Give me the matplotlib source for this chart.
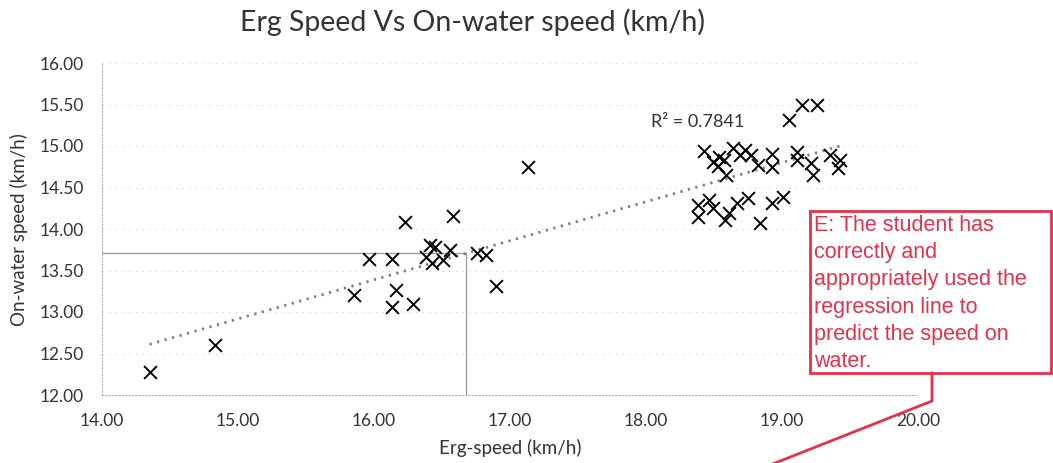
import numpy as np
import matplotlib
matplotlib.use("Agg")
import matplotlib.pyplot as plt
from matplotlib.patches import Rectangle
from matplotlib.lines import Line2D

# values
erg_speed = [
    14.35, 14.83, 15.85, 15.96, 16.13, 16.16, 16.13, 16.29, 16.23, 16.58,
    16.41, 16.45, 16.38, 16.43, 16.51, 16.56, 16.76, 16.82, 16.90, 17.13,
    18.43, 18.49, 18.54, 18.57, 18.64, 18.69, 18.73, 18.77, 18.82, 18.59,
    18.53, 18.93, 18.93, 19.11, 19.11, 19.21, 19.23, 19.35, 19.43, 19.41,
    19.05, 19.15, 19.26,
    18.38, 18.38, 18.46, 18.49, 18.58, 18.61, 18.67, 18.75, 18.84, 18.93, 19.01,
]
water_speed = [
    12.28, 12.60, 13.20, 13.64, 13.64, 13.27, 13.06, 13.10, 14.08, 14.16,
    13.81, 13.78, 13.66, 13.59, 13.63, 13.75, 13.71, 13.69, 13.31, 14.75,
    14.94, 14.81, 14.87, 14.83, 14.98, 14.89, 14.95, 14.89, 14.77, 14.65,
    14.76, 14.90, 14.75, 14.93, 14.83, 14.79, 14.65, 14.89, 14.83, 14.73,
    15.31, 15.49, 15.50,
    14.29, 14.14, 14.35, 14.25, 14.11, 14.19, 14.31, 14.37, 14.07, 14.31, 14.39,
]
r2_label = "R² = 0.7841"
pred_erg = 16.68
pred_water = 13.71
x_ticks = [14, 15, 16, 17, 18, 19, 20]
y_ticks = [12.0, 12.5, 13.0, 13.5, 14.0, 14.5, 15.0, 15.5, 16.0]
comment = ("E: The student has\ncorrectly and\nappropriately used the\n"
           "regression line to\npredict the speed on\nwater.")

W, H = 1053, 463
RED = "#E8304A"
plt.rcParams["font.family"] = ["Lato", "DejaVu Sans"]

fig = plt.figure(figsize=(W / 100, H / 100), dpi=100)
ax = fig.add_axes([102 / W, 1 - 395 / H, (918 - 102) / W, (395 - 63) / H])

x = np.array(erg_speed)
y = np.array(water_speed)

# gridlines
for v in y_ticks[1:]:
    ax.axhline(v, color="#d0d0d0", lw=0.8, ls=(0, (1, 5)), zorder=0)

ax.scatter(x, y, marker="x", s=85, color="black", linewidths=1.4, zorder=3)

# linear trendline over the data range
k, b = np.polyfit(x, y, 1)
xs = np.array([x.min(), x.max()])
ax.plot(xs, k * xs + b, color="#7f7f7f", lw=2, ls=(0, (0.8, 2.0)), zorder=2)

# reading off the prediction
ax.plot([14, pred_erg], [pred_water, pred_water], color="#9a9a9a", lw=0.9, zorder=1)
ax.plot([pred_erg, pred_erg], [12, pred_water], color="#9a9a9a", lw=0.9, zorder=1)

ax.text(18.04, 15.29, r2_label, fontsize=13, color="#333333",
        ha="left", va="center")

ax.set_xlim(14, 20)
ax.set_ylim(12, 16)
ax.set_xticks(x_ticks)
ax.set_yticks(y_ticks)
ax.set_xticklabels([f"{t:.2f}" for t in x_ticks])
ax.set_yticklabels([f"{t:.2f}" for t in y_ticks])
ax.tick_params(length=0, labelsize=12.5, pad=13, colors="#333333")
ax.tick_params(axis="x", pad=13)
for side in ["top", "right"]:
    ax.spines[side].set_visible(False)
for side in ["left", "bottom"]:
    ax.spines[side].set_color("#b0b0b0")
    ax.spines[side].set_linestyle((0, (1, 2)))
    ax.spines[side].set_linewidth(0.8)

fig.text(510 / W, 1 - 448 / H, "Erg-speed (km/h)", fontsize=13.5,
         ha="center", va="center", color="#333333")
fig.text(19 / W, 1 - 230 / H, "On-water speed (km/h)", fontsize=13.5,
         ha="center", va="center", rotation=90, color="#333333")
fig.text(473 / W, 1 - 22 / H, "Erg Speed Vs On-water speed (km/h)",
         fontsize=20.5, ha="center", va="center", color="#333333")

# callout box
fig.add_artist(Rectangle((810 / W, 1 - 373 / H), (1051 - 810) / W, (373 - 211) / H,
                         transform=fig.transFigure, facecolor="white",
                         edgecolor=RED, lw=2, zorder=5))
fig.text(814 / W, 1 - 215 / H, comment, fontsize=15.5, color=RED,
         family=["Liberation Sans", "DejaVu Sans"], ha="left", va="top",
         linespacing=1.39, zorder=6)
fig.add_artist(Line2D([932 / W, 932 / W, 760 / W], [1 - 373 / H, 1 - 401 / H, 1 - 469 / H],
                      transform=fig.transFigure, color=RED, lw=2, zorder=5))

fig.savefig("out.png", dpi=100)
